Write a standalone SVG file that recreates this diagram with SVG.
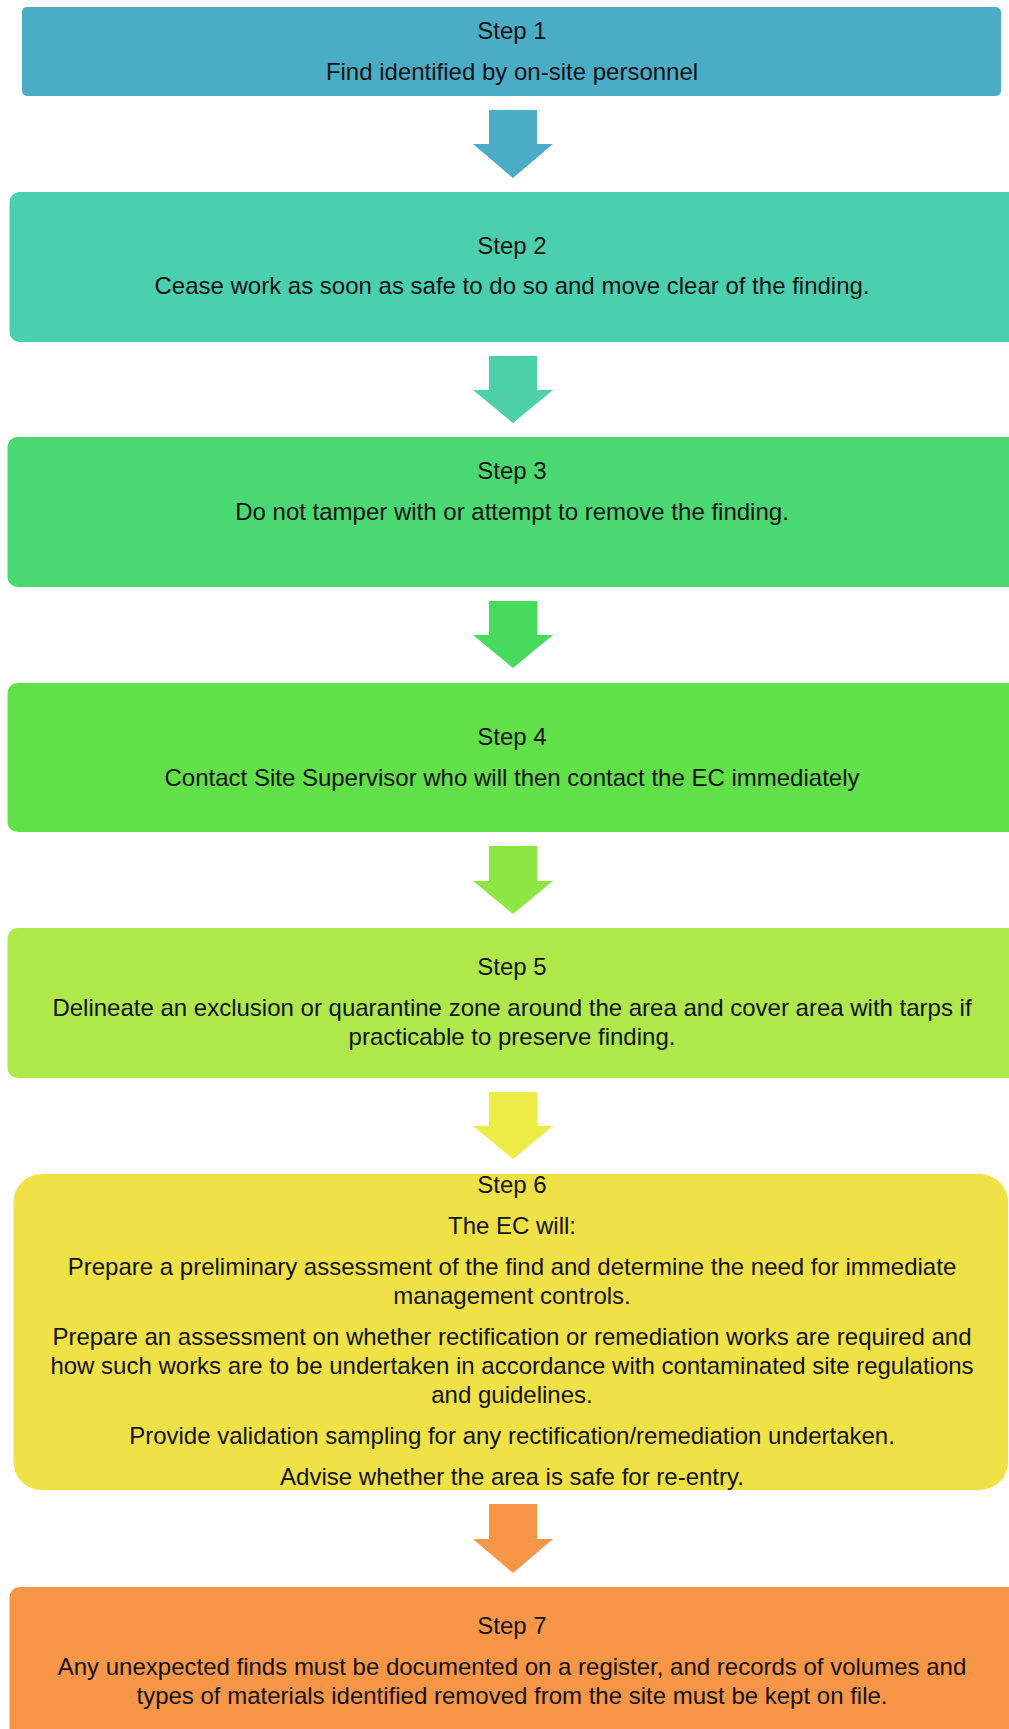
<svg xmlns="http://www.w3.org/2000/svg" width="1009" height="1729" viewBox="0 0 1009 1729">
<style>
text{font-family:"Liberation Sans","Carlito",Arial,sans-serif;font-size:24px;fill:#111;text-anchor:middle}
</style>
<rect width="1009" height="1729" fill="#fff"/>
<g id="connectors">
<polygon points="489,110 537,110 537,144 553,144 513,178 473,144 489,144" fill="#4BACC6"/>
<polygon points="489,356 537,356 537,390 553,390 513,423 473,390 489,390" fill="#4CD1A8"/>
<polygon points="489,601 537,601 537,635 553,635 513,668 473,635 489,635" fill="#47DA5C"/>
<polygon points="489,846 537,846 537,881 553,881 513,914 473,881 489,881" fill="#8DE644"/>
<polygon points="489,1092 537,1092 537,1126 553,1126 513,1159 473,1126 489,1126" fill="#EDEC47"/>
<polygon points="489,1504 537,1504 537,1539 553,1539 513,1573 473,1539 489,1539" fill="#F79646"/>
</g>
<g id="step1">
<rect x="22" y="7" width="979" height="89" rx="5" fill="#4BACC6"/>
<text x="512" y="39">Step 1</text>
<text x="512" y="80">Find identified by on-site personnel</text>
</g>
<g id="step2">
<rect x="9.5" y="192" width="1020" height="150" rx="10" fill="#4ACFAF"/>
<text x="512" y="254">Step 2</text>
<text x="512" y="294">Cease work as soon as safe to do so and move clear of the finding.</text>
</g>
<g id="step3">
<rect x="7.5" y="437" width="1020" height="150" rx="10" fill="#4AD873"/>
<text x="512" y="479">Step 3</text>
<text x="512" y="520">Do not tamper with or attempt to remove the finding.</text>
</g>
<g id="step4">
<rect x="7.5" y="683" width="1020" height="149" rx="10" fill="#62E04A"/>
<text x="512" y="745">Step 4</text>
<text x="512" y="786">Contact Site Supervisor who will then contact the EC immediately</text>
</g>
<g id="step5">
<rect x="7.5" y="928" width="1020" height="150" rx="10" fill="#AEE84A"/>
<text x="512" y="975">Step 5</text>
<text x="512" y="1016">Delineate an exclusion or quarantine zone around the area and cover area with tarps if</text>
<text x="512" y="1045">practicable to preserve finding.</text>
</g>
<g id="step6">
<rect x="13.5" y="1174" width="994.5" height="316" rx="28" fill="#EFE146"/>
<text x="512" y="1193">Step 6</text>
<text x="512" y="1234">The EC will:</text>
<text x="512" y="1275">Prepare a preliminary assessment of the find and determine the need for immediate</text>
<text x="512" y="1304">management controls.</text>
<text x="512" y="1345">Prepare an assessment on whether rectification or remediation works are required and</text>
<text x="512" y="1374">how such works are to be undertaken in accordance with contaminated site regulations</text>
<text x="512" y="1403">and guidelines.</text>
<text x="512" y="1444">Provide validation sampling for any rectification/remediation undertaken.</text>
<text x="512" y="1485">Advise whether the area is safe for re-entry.</text>
</g>
<g id="step7">
<rect x="9.5" y="1587" width="1020" height="160" rx="10" fill="#F79646"/>
<text x="512" y="1634">Step 7</text>
<text x="512" y="1675">Any unexpected finds must be documented on a register, and records of volumes and</text>
<text x="512" y="1704">types of materials identified removed from the site must be kept on file.</text>
</g>
</svg>
